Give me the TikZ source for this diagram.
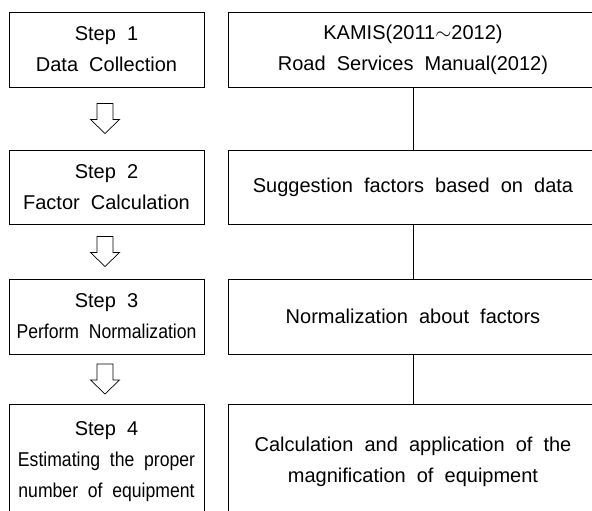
\documentclass[tikz,border=0pt]{standalone}
\usepackage{fontspec}
\setmainfont{Liberation Sans}[WordSpace=2]
\usetikzlibrary{calc}
\newcommand{\hsq}[1]{\scalebox{0.88}[1]{#1}}
\begin{document}
\begin{tikzpicture}[x=1pt,y=-1pt, line width=0.8pt,
  every node/.style={font=\fontsize{20}{31}\selectfont, align=center, inner sep=0pt},
  stepbox/.style={draw, minimum width=195pt, minimum height=75pt},
  infobox/.style={draw, minimum width=370pt, minimum height=75pt},
  link/.style={line width=0.8pt},
  hollowdown/.pic={\draw[line width=0.7pt, fill=white] (-8,-15) -- (8,-15) -- (8,1) -- (14.5,1) -- (0,15) -- (-14.5,1) -- (-8,1) -- cycle;}]
\useasboundingbox (0,0) rectangle (592,511);
\clip (0,0) rectangle (592,511);
% left column
\node[stepbox] (s1) at (106.5,49.5) {Step 1\\Data Collection};
\node[stepbox, minimum height=74pt] (s2) at (106.5,187) {Step 2\\Factor Calculation};
\node[stepbox] (s3) at (106.5,316.5) {Step 3\\\hsq{Perform Normalization}};
\node[stepbox, minimum height=115pt] (s4) at (106.5,461.5) {Step 4\\\hsq{Estimating the proper}\\\hsq{number of equipment}};
% right column
\node[infobox] (r1) at (413,49.5) {KAMIS(2011$\sim$2012)\\Road Services Manual(2012)};
\node[infobox, minimum height=74pt] (r2) at (413,187) {Suggestion factors based on data};
\node[infobox] (r3) at (413,316.5) {Normalization about factors};
\node[infobox, minimum height=115pt] (r4) at (413,461.5) {Calculation and application of the\\magnification of equipment};
% connectors
\draw[link] (r1.south) -- (r2.north);
\draw[link] (r2.south) -- (r3.north);
\draw[link] (r3.south) -- (r4.north);
% hollow arrows
\coordinate (a1) at ($(s1.south)!0.5!(s2.north)+(-1.5,0)$);
\coordinate (a2) at ($(s2.south)!0.5!(s3.north)+(-1.5,0)$);
\coordinate (a3) at ($(s3.south)!0.5!(s4.north)+(-1.5,0)$);
\pic at (a1) {hollowdown};
\pic at (a2) {hollowdown};
\pic at (a3) {hollowdown};
\end{tikzpicture}
\end{document}
